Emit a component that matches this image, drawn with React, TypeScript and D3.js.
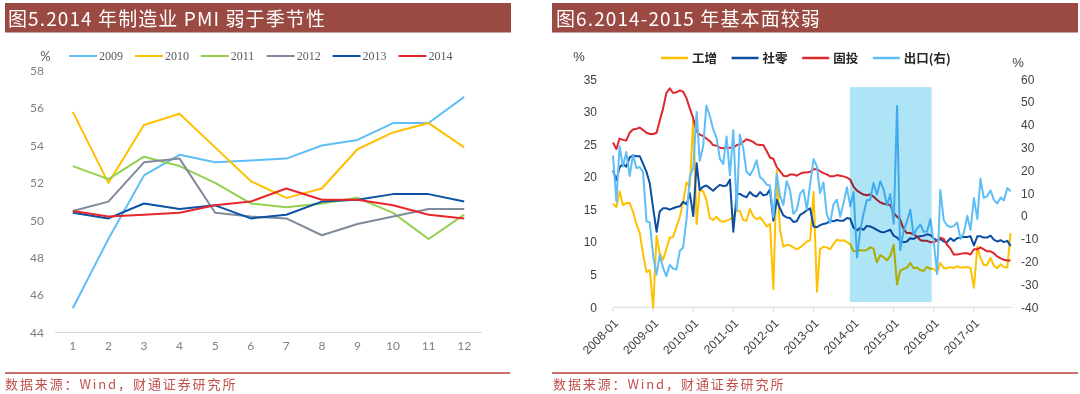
import React from 'react';
import * as d3 from 'd3';

// ---------- Left chart data (PMI by month) ----------
const pmiMonths = ['1', '2', '3', '4', '5', '6', '7', '8', '9', '10', '11', '12'];
const pmiYears = ['2009', '2010', '2011', '2012', '2013', '2014'];
const pmi2009 = [45.3, 49.0, 52.4, 53.5, 53.1, 53.2, 53.3, 54.0, 54.3, 55.2, 55.2, 56.6];
const pmi2010 = [55.8, 52.0, 55.1, 55.7, 53.9, 52.1, 51.2, 51.7, 53.8, 54.7, 55.2, 53.9];
const pmi2011 = [52.9, 52.2, 53.4, 52.9, 52.0, 50.9, 50.7, 50.9, 51.2, 50.4, 49.0, 50.3];
const pmi2012 = [50.5, 51.0, 53.1, 53.3, 50.4, 50.2, 50.1, 49.2, 49.8, 50.2, 50.6, 50.6];
const pmi2013 = [50.4, 50.1, 50.9, 50.6, 50.8, 50.1, 50.3, 51.0, 51.1, 51.4, 51.4, 51.0];
const pmi2014 = [50.5, 50.2, 50.3, 50.4, 50.8, 51.0, 51.7, 51.1, 51.1, 50.8, 50.3, 50.1];
const pmiTicks = [44, 46, 48, 50, 52, 54, 56, 58];

// ---------- Right chart data (monthly, 2008-01 .. 2017-12) ----------
const startMonth = '2008-01';
const ipGrowth = [
  15.9, 15.4, 17.8, 15.7, 16.0, 16.0, 14.7, 12.8, 11.4, 8.2, 5.4, 5.7,
  0, 11.0, 8.3, 7.3, 8.9, 10.7, 10.8, 12.3, 13.9, 16.1, 19.2, 18.5,
  29.2, 12.8, 18.1, 17.8, 16.5, 13.7, 13.4, 13.9, 13.3, 13.1, 13.3, 13.5,
  13.9, 14.9, 14.8, 13.4, 13.3, 15.1, 14.0, 13.5, 13.8, 13.2, 12.4, 12.8,
  2.8, 21.0, 11.9, 9.3, 9.6, 9.5, 9.2, 8.9, 9.2, 9.6, 10.1, 10.3,
  17.7, 2.4, 8.9, 9.3, 9.2, 8.9, 9.7, 10.4, 10.2, 10.3, 10.0, 9.7,
  8.6, 8.6, 8.8, 8.7, 8.8, 9.2, 9.0, 6.9, 8.0, 7.7, 7.2, 7.9,
  9.6, 3.5, 5.6, 5.9, 6.1, 6.8, 6.0, 6.1, 5.7, 5.6, 6.2, 5.9,
  5.9, 5.4, 6.8, 6.0, 6.0, 6.2, 6.0, 6.3, 6.1, 6.1, 6.2, 6.0,
  3.0, 9.3, 7.6, 6.5, 6.5, 7.6, 6.4, 6.0, 6.6, 6.2, 6.1, 11.4,
];
const retailGrowth = [
  21.0, 19.5, 21.5, 22.0, 21.6, 23.0, 23.3, 23.2, 23.2, 22.0, 20.8, 19.0,
  15.2, 11.6, 14.7, 15.2, 15.2, 15.0, 15.2, 15.4, 15.5, 16.2, 15.8, 17.5,
  14.0, 22.1, 18.0, 18.5, 18.7, 18.3, 17.9, 18.4, 18.8, 18.6, 18.7, 19.6,
  11.6, 17.4, 17.4, 17.1, 16.9, 17.7, 17.2, 17.0, 17.7, 17.2, 17.3, 18.1,
  13.3, 16.5, 15.2, 14.1, 13.8, 13.7, 13.1, 13.2, 14.2, 14.5, 14.9, 15.2,
  12.4, 12.3, 12.6, 12.8, 12.9, 13.3, 13.2, 13.4, 13.3, 13.3, 13.7, 13.6,
  12.2, 11.8, 12.2, 11.9, 12.5, 12.4, 12.2, 11.9, 11.6, 11.5, 11.7, 11.9,
  11.0, 10.7, 10.2, 10.0, 10.1, 10.6, 10.5, 10.8, 10.9, 11.0, 11.2, 11.1,
  10.6, 10.2, 10.5, 10.1, 10.0, 10.6, 10.2, 10.6, 10.7, 10.8, 10.8, 10.9,
  9.5, 10.9, 10.9, 10.7, 10.7, 11.0, 10.4, 10.1, 10.3, 10.0, 10.2, 9.4,
];
const faiGrowth = [
  25.3, 24.3, 25.9, 25.7, 25.6, 26.8, 27.3, 27.4, 27.6, 27.2, 26.8, 26.6,
  26.6, 26.8, 28.6, 30.5, 32.9, 33.6, 32.9, 33.0, 33.3, 33.1, 32.1, 30.5,
  29.0, 27.0, 26.5, 26.3, 25.9, 25.5, 24.9, 24.8, 24.5, 24.4, 24.5, 24.5,
  24.5, 24.9, 25.0, 25.4, 25.8, 25.6, 25.4, 25.0, 24.9, 24.9, 24.0, 23.0,
  22.8, 21.5, 20.9, 20.2, 20.1, 20.4, 20.4, 20.2, 20.5, 20.7, 20.7, 20.8,
  21.2, 21.2, 20.9, 20.6, 20.4, 20.1, 20.1, 20.3, 20.2, 20.1, 19.9, 19.6,
  18.5, 17.9, 17.6, 17.3, 17.2, 17.3, 17.0, 16.5, 16.1, 15.9, 15.8, 15.7,
  14.5, 13.9, 13.5, 12.0, 11.4, 11.4, 11.2, 10.9, 10.3, 10.2, 10.2, 10.0,
  10.0, 10.2, 10.7, 10.5, 9.6, 9.0, 8.1, 8.1, 8.2, 8.3, 8.3, 8.1,
  8.9, 8.9, 9.2, 8.9, 8.6, 8.6, 8.3, 7.8, 7.5, 7.3, 7.2, 7.2,
];
const exportGrowth = [
  26.6, 6.4, 30.6, 21.8, 28.1, 17.6, 26.9, 21.1, 21.5, 19.2, -2.2, -2.8,
  -17.5, -25.7, -17.1, -22.6, -26.4, -21.4, -23.0, -23.4, -15.2, -13.8, -1.2, 17.7,
  21.0, 45.7, 24.3, 30.5, 48.5, 43.9, 38.1, 34.4, 25.1, 22.9, 34.9, 17.9,
  37.7, 2.4, 35.8, 29.9, 19.4, 17.9, 20.4, 24.5, 17.1, 15.9, 13.8, 13.4,
  -0.5, 18.4, 8.9, 4.9, 15.3, 11.3, 1.0, 2.7, 9.9, 11.6, 2.9, 14.1,
  25.0, 21.8, 10.0, 14.7, 1.0, -3.1, 5.1, 7.2, -0.3, 5.6, 12.7, 4.3,
  10.6, -18.1, -6.6, 0.9, 7.0, 7.2, 14.5, 9.4, 15.3, 11.6, 4.7, 9.7,
  -3.3, 48.3, -15.0, -6.4, -2.5, 2.8, -8.3, -5.5, -3.7, -6.9, -6.8, -1.4,
  -11.2, -25.4, 11.5, -1.8, -4.1, -4.8, -4.4, -2.8, -10.0, -7.3, 0.1, -6.1,
  7.9, -1.3, 16.4, 8.0, 8.7, 11.3, 7.2, 5.5, 8.1, 6.9, 12.3, 10.9,
];
const seriesNames = ['工增', '社零', '固投', '出口(右)'];
const yearTickLabels = ['2008-01', '2009-01', '2010-01', '2011-01', '2012-01', '2013-01', '2014-01', '2015-01', '2016-01', '2017-01'];
const leftTicks = [0, 5, 10, 15, 20, 25, 30, 35];
const rightTicks = [-40, -30, -20, -10, 0, 10, 20, 30, 40, 50, 60];
const shadeDates = ['2013-11-28', '2015-12-13'];
const shadeRange = [0.8, 33.8];

const pmiColors = ['#5FBEF5', '#FFC000', '#92D050', '#7F8A9C', '#0A52A3', '#E8272C'];
const rightColors = ['#FFC000', '#0B4EA2', '#E0272D', '#5FBEF5'];

const CJK = '"Noto Sans CJK SC", "Noto Sans CJK JP", sans-serif';

function LeftChart() {
  const all = [pmi2009, pmi2010, pmi2011, pmi2012, pmi2013, pmi2014];
  const x = d3.scalePoint<string>().domain(pmiMonths).range([55, 482]).padding(0.5);
  const y = d3.scaleLinear().domain([44, 58]).range([332.5, 70.7]);
  const line = d3.line<number>().x((_, i) => x(pmiMonths[i]) as number).y((d) => y(d));
  return (
    <g>
      <rect x={5} y={3} width={506} height={29.5} fill="#9B4943" />
      <text x={8} y={25.5} fill="#fff" fontFamily={CJK} fontSize={19} letterSpacing={1.1}>
        图5.2014 年制造业 PMI 弱于季节性
      </text>
      {/* legend */}
      <text x={45.5} y={61} fill="#595959" fontFamily="Lato, sans-serif" fontSize={13} textAnchor="middle">%</text>
      {pmiYears.map((yr, i) => (
        <g key={yr} transform={`translate(${69 + i * 65.9},56)`}>
          <line x1={0} x2={28} y1={0} y2={0} stroke={pmiColors[i]} strokeWidth={2} />
          <text x={30} y={4} fill="#595959" fontFamily='"Liberation Serif", serif' fontSize={12}>{yr}</text>
        </g>
      ))}
      {/* y ticks */}
      {pmiTicks.map((t) => (
        <text key={t} x={44} y={y(t)} dy="0.35em" textAnchor="end" fill="#808080" fontFamily="Lato, sans-serif" fontSize={12}>{t}</text>
      ))}
      <line x1={55} x2={482} y1={y(44)} y2={y(44)} stroke="#D9D9D9" strokeWidth={1} />
      {pmiMonths.map((m) => (
        <text key={m} x={x(m)} y={346} dy="0.35em" textAnchor="middle" fill="#808080" fontFamily="Lato, sans-serif" fontSize={12}>{m}</text>
      ))}
      {all.map((s, i) => (
        <path key={i} d={line(s) || ''} fill="none" stroke={pmiColors[i]} strokeWidth={2} strokeLinejoin="round" />
      ))}
      <line x1={5} x2={510} y1={373} y2={373} stroke="#B5413E" strokeWidth={1.5} />
      <text x={5} y={389} fill="#C0504D" fontFamily={CJK} fontSize={13} letterSpacing={1.9}>数据来源：Wind，财通证券研究所</text>
    </g>
  );
}

function RightChart() {
  const parse = d3.timeParse('%Y-%m');
  const t0 = parse(startMonth) as Date;
  const dates = ipGrowth.map((_, i) => d3.timeMonth.offset(t0, i));
  const x = d3.scaleTime().domain([t0, d3.timeYear.offset(t0, 10)]).range([613, 1014]);
  const yL = d3.scaleLinear().domain([0, 35]).range([307.3, 79.3]);
  const yR = d3.scaleLinear().domain([-40, 60]).range([307.3, 79.3]);
  const lineL = d3.line<number>().x((_, i) => x(dates[i])).y((d) => yL(d));
  const lineR = d3.line<number>().x((_, i) => x(dates[i])).y((d) => yR(d));
  const sd = shadeDates.map((s) => d3.timeParse('%Y-%m-%d')(s) as Date);
  const axisEnd = x(dates[dates.length - 1]) + 1.5;
  const tickDates = yearTickLabels.map((s) => parse(s) as Date);
  return (
    <g>
      <rect x={552} y={3} width={526} height={29.5} fill="#9B4943" />
      <text x={556} y={25.5} fill="#fff" fontFamily={CJK} fontSize={19} letterSpacing={1.1}>
        图6.2014-2015 年基本面较弱
      </text>
      <text x={579} y={61} fill="#404040" fontFamily='"Liberation Sans", sans-serif' fontSize={13} textAnchor="middle">%</text>
      <text x={1018} y={67} fill="#404040" fontFamily='"Liberation Sans", sans-serif' fontSize={13} textAnchor="middle">%</text>
      {seriesNames.map((n, i) => (
        <g key={n} transform={`translate(${661 + i * 70.6},58)`}>
          <line x1={0} x2={27} y1={0} y2={0} stroke={rightColors[i]} strokeWidth={2.5} />
          <text x={31} y={4.5} fill="#262626" fontFamily={CJK} fontWeight={700} fontSize={12.5}>{n}</text>
        </g>
      ))}
      {leftTicks.map((t) => (
        <text key={t} x={597} y={yL(t)} dy="0.35em" textAnchor="end" fill="#404040" fontFamily='"Liberation Sans", sans-serif' fontSize={12}>{t}</text>
      ))}
      {rightTicks.map((t) => (
        <text key={t} x={1021} y={yR(t)} dy="0.35em" textAnchor="start" fill="#404040" fontFamily='"Liberation Sans", sans-serif' fontSize={12}>{t}</text>
      ))}
      <line x1={613} x2={axisEnd} y1={307.3} y2={307.3} stroke="#D9D9D9" strokeWidth={1} />
      {tickDates.map((d, i) => (
        <g key={i}>
          <line x1={x(d)} x2={x(d)} y1={307.3} y2={311.5} stroke="#D9D9D9" strokeWidth={1} />
          <text transform={`translate(${x(d) + 3},${321}) rotate(-45)`} textAnchor="end" dy="0.35em" fill="#404040" fontFamily='"Liberation Sans", sans-serif' fontSize={12}>{yearTickLabels[i]}</text>
        </g>
      ))}
      <path d={lineL(ipGrowth) || ''} fill="none" stroke={rightColors[0]} strokeWidth={2} strokeLinejoin="round" />
      <path d={lineL(retailGrowth) || ''} fill="none" stroke={rightColors[1]} strokeWidth={2} strokeLinejoin="round" />
      <path d={lineL(faiGrowth) || ''} fill="none" stroke={rightColors[2]} strokeWidth={2} strokeLinejoin="round" />
      <path d={lineR(exportGrowth) || ''} fill="none" stroke={rightColors[3]} strokeWidth={2} strokeLinejoin="round" />
      <rect x={x(sd[0])} y={yL(shadeRange[1])} width={x(sd[1]) - x(sd[0])} height={yL(shadeRange[0]) - yL(shadeRange[1])} fill="#ADE4F6" style={{ mixBlendMode: 'multiply' }} />
      <line x1={552} x2={1078} y1={373} y2={373} stroke="#B5413E" strokeWidth={1.5} />
      <text x={553} y={389} fill="#C0504D" fontFamily={CJK} fontSize={13} letterSpacing={1.9}>数据来源：Wind，财通证券研究所</text>
    </g>
  );
}

export default function App() {
  return (
    <svg width={1080} height={394} style={{ position: 'absolute', left: 0, top: 0, background: '#fff' }}>
      <rect width={1080} height={394} fill="#fff" />
      <LeftChart />
      <RightChart />
    </svg>
  );
}
